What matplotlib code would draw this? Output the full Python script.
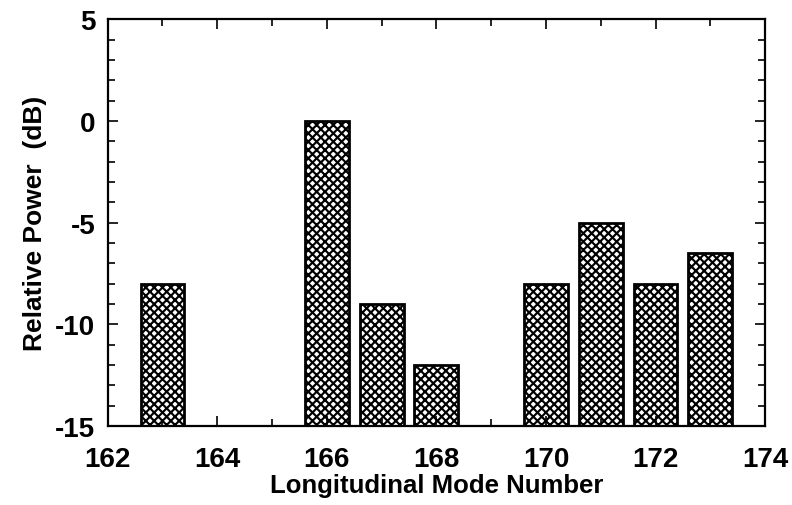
import numpy as np
import matplotlib
matplotlib.use("Agg")
import matplotlib.pyplot as plt
from matplotlib.ticker import MultipleLocator

# mode numbers and their relative power (dB)
modes = [163, 166, 167, 168, 170, 171, 172, 173]
power_db = [-8, 0, -9, -12, -8, -5, -8, -6.5]
floor_db = -15

x_ticks = [162, 164, 166, 168, 170, 172, 174]
y_ticks = [5, 0, -5, -10, -15]

plt.rcParams['font.family'] = ['Liberation Sans', 'DejaVu Sans']
plt.rcParams['font.weight'] = 'bold'
plt.rcParams['axes.unicode_minus'] = False
plt.rcParams['hatch.linewidth'] = 1.55

fig = plt.figure(figsize=(7.92, 5.06), dpi=100)
ax = fig.add_axes([0.136, 0.156, 0.830, 0.804])

# bars rise from the bottom of the axis
heights = np.array(power_db) - floor_db
ax.bar(modes, heights, bottom=floor_db, width=0.8, color='white',
       edgecolor='black', linewidth=2.0, hatch='xxxx')

ax.set_xlim(162, 174)
ax.set_ylim(-15, 5)
ax.set_xticks(x_ticks)
ax.set_yticks(y_ticks)
ax.xaxis.set_minor_locator(MultipleLocator(1))
ax.yaxis.set_minor_locator(MultipleLocator(1))
ax.tick_params(which='both', direction='in', top=True, right=True, width=1.2)
ax.tick_params(which='major', length=7, labelsize=20)
ax.tick_params(which='minor', length=5)
ax.tick_params(axis='x', which='major', pad=14)
ax.tick_params(axis='y', which='major', pad=9)
for lbl in ax.get_xticklabels() + ax.get_yticklabels():
    lbl.set_fontweight('bold')
for s in ax.spines.values():
    s.set_linewidth(1.6)

ax.set_xlabel('Longitudinal Mode Number', fontsize=18.5, fontweight='bold',
              labelpad=1)
ax.set_ylabel('Relative Power  (dB)', fontsize=19, fontweight='bold',
              labelpad=6)

fig.savefig('out.png', dpi=100, facecolor='white')
